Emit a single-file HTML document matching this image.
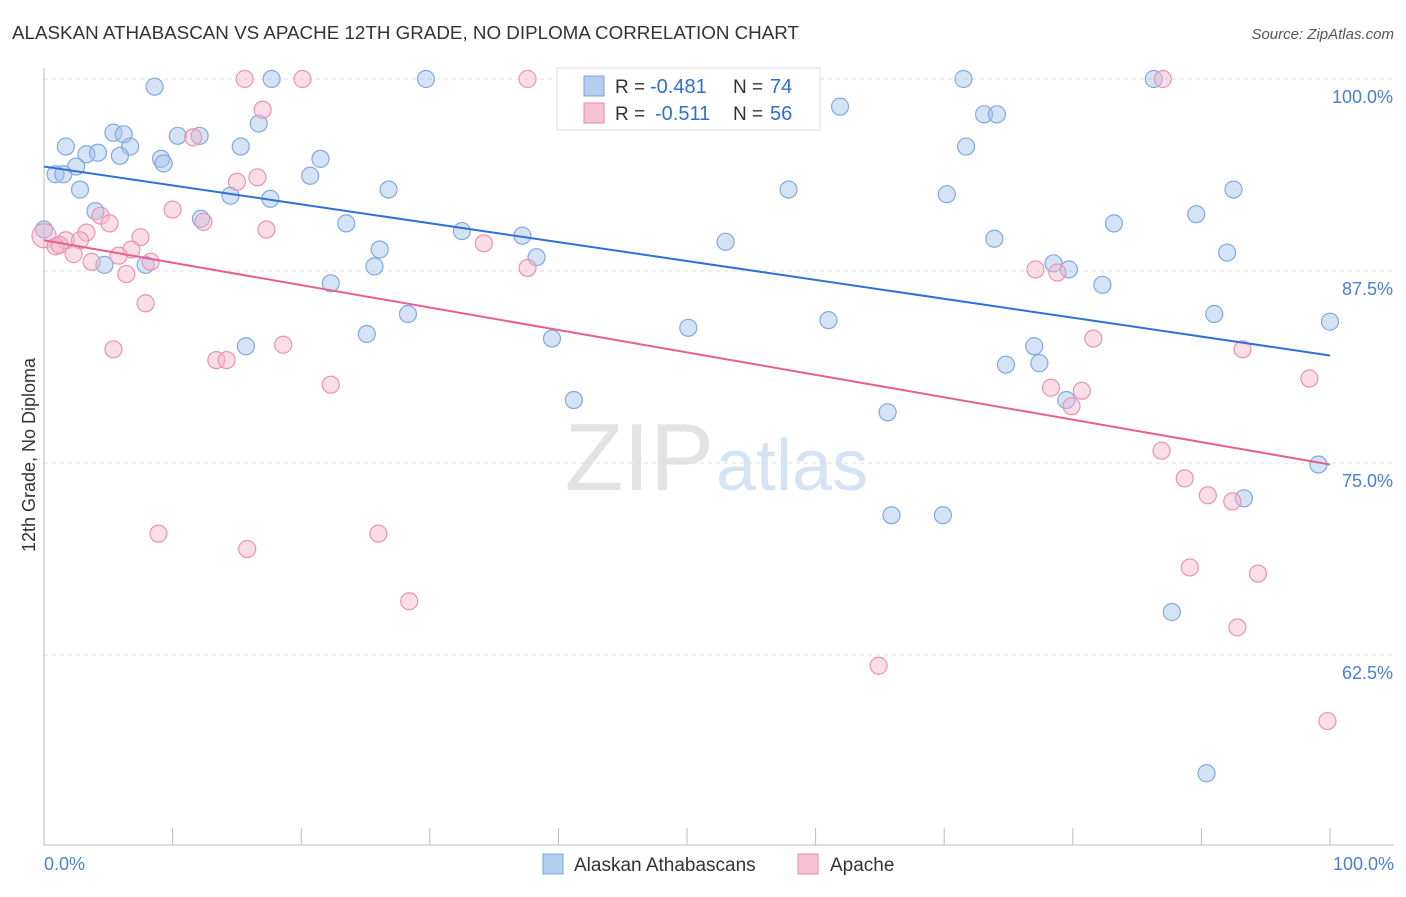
<!DOCTYPE html>
<html><head><meta charset="utf-8"><style>
body{margin:0;background:#fff;font-family:"Liberation Sans",sans-serif;}
svg text{font-family:"Liberation Sans",sans-serif;}
</style></head><body>
<svg id="chart" width="1406" height="892" viewBox="0 0 1406 892">
<text x="12" y="39" font-size="18" fill="#333" textLength="787" lengthAdjust="spacingAndGlyphs">ALASKAN ATHABASCAN VS APACHE 12TH GRADE, NO DIPLOMA CORRELATION CHART</text>
<text x="1394" y="39" font-size="15" fill="#555" text-anchor="end" font-style="italic">Source: ZipAtlas.com</text>
<text x="714" y="490" font-size="96" fill="#e3e3e3" text-anchor="end" font-family="Liberation Serif">ZIP</text>
<text x="716" y="490" font-size="72" fill="#d6e3f3">atlas</text>
<g id="grid"></g>
<g id="axes"></g>
<g id="marks"></g>
<g id="trends"></g>
<text transform="translate(35,455) rotate(-90)" font-size="18" fill="#333" text-anchor="middle">12th Grade, No Diploma</text>
<text x="44" y="870" font-size="18" fill="#4a7fd4">0.0%</text>
<text x="1394" y="870" font-size="18" fill="#4a7fd4" text-anchor="end">100.0%</text>
<g>
<rect x="557" y="68" width="263" height="62" fill="#fff" stroke="#ddd"/>
<rect x="584" y="76" width="20" height="20" fill="#b5cdee" stroke="#7aa3dc"/>
<text x="615" y="93" font-size="19" fill="#333">R =</text>
<text x="650" y="93" font-size="20" fill="#2f6fd0">-0.481</text>
<text x="733" y="93" font-size="19" fill="#333">N =</text>
<text x="770" y="93" font-size="20" fill="#2f6fd0">74</text>
<rect x="584" y="103" width="20" height="20" fill="#f7c3d4" stroke="#e58aa9"/>
<text x="615" y="120" font-size="19" fill="#333">R =</text>
<text x="655" y="120" font-size="20" fill="#2f6fd0">-0.511</text>
<text x="733" y="120" font-size="19" fill="#333">N =</text>
<text x="770" y="120" font-size="20" fill="#2f6fd0">56</text>
</g>
<g>
<rect x="543" y="854" width="20" height="20" fill="#b5cdee" stroke="#7aa3dc"/>
<text x="574" y="871" font-size="19" fill="#333">Alaskan Athabascans</text>
<rect x="798" y="854" width="20" height="20" fill="#f7c3d4" stroke="#e58aa9"/>
<text x="830" y="871" font-size="19" fill="#333">Apache</text>
</g>
</svg>
<script>
const yTicks=[100,87.5,75,62.5];
const yTickLabels=["100.0%","87.5%","75.0%","62.5%"];
const xTicks=[0,10,20,30,40,50,60,70,80,90,100];
const blueX=[8.6,17.7,29.7,71.5,86.3,61.9,73.1,74.1,16.7,5.4,6.2,10.4,12.1,1.7,6.7,15.3,71.7,3.3,4.2,5.9,9.1,9.3,21.5,2.5,0.9,1.5,20.7,2.8,14.5,17.6,26.8,57.9,70.2,92.5,4.0,12.2,23.5,89.6,83.2,0,32.5,37.2,53.0,73.9,26.1,92.0,4.7,7.9,25.7,38.3,78.5,79.7,22.3,82.3,28.3,91.0,100,50.1,61.0,25.1,39.5,15.7,77.0,74.8,77.4,41.2,79.5,65.6,99.1,93.3,65.9,69.9,87.7,90.4];
const blueY=[99.5,100,100,100,100,98.2,97.7,97.7,97.1,96.5,96.4,96.3,96.3,95.6,95.6,95.6,95.6,95.1,95.2,95.0,94.8,94.5,94.8,94.3,93.8,93.8,93.7,92.8,92.4,92.2,92.8,92.8,92.5,92.8,91.4,90.9,90.6,91.2,90.6,90.2,90.1,89.8,89.4,89.6,88.9,88.7,87.9,87.9,87.8,88.4,88.0,87.6,86.7,86.6,84.7,84.7,84.2,83.8,84.3,83.4,83.1,82.6,82.6,81.4,81.5,79.1,79.1,78.3,74.9,72.7,71.6,71.6,65.3,54.8];
const pinkX=[15.6,20.1,37.6,87.0,17.0,11.6,15.0,16.6,10.0,4.4,5.1,12.4,17.3,3.3,0,7.5,1.7,2.8,0.9,1.2,6.8,5.8,2.3,3.7,8.3,6.4,34.2,37.6,77.1,78.8,7.9,81.6,5.4,18.6,13.4,14.2,22.3,93.2,98.4,78.3,80.7,79.9,86.9,88.7,90.5,92.4,8.9,26.0,15.8,89.1,94.4,28.4,92.8,64.9,99.8];
const pinkY=[100,100,100,100,98.0,96.2,93.3,93.6,91.5,91.1,90.6,90.7,90.2,90.0,89.8,89.7,89.5,89.5,89.1,89.2,88.9,88.5,88.6,88.1,88.1,87.3,89.3,87.7,87.6,87.4,85.4,83.1,82.4,82.7,81.7,81.7,80.1,82.4,80.5,79.9,79.7,78.7,75.8,74.0,72.9,72.5,70.4,70.4,69.4,68.2,67.8,66.0,64.3,61.8,58.2];
const blueTrend=[94.3,82.0];
const pinkTrend=[89.5,74.9];
const NS="http://www.w3.org/2000/svg";
const xs=v=>44+v*12.86;
const ys=v=>79+(100-v)*15.36;
function mk(tag,attrs,parent){const e=document.createElementNS(NS,tag);for(const k in attrs)e.setAttribute(k,attrs[k]);document.getElementById(parent).appendChild(e);return e;}
yTicks.forEach((t,i)=>{
 const l=mk('line',{x1:44,x2:1394,y1:ys(t),y2:ys(t),stroke:'#ddd','stroke-dasharray':'4,4'},'grid');
 
 
 const tx=mk('text',{x:1393,y:ys(t)+24,'font-size':18,fill:'#4a7fd4','text-anchor':'end'},'grid');
 tx.textContent=yTickLabels[i];
 
 
});
let a=mk('line',{x1:44,x2:44,y1:68,y2:845,stroke:'#bbb'},'axes');


a=mk('line',{x1:44,x2:1394,y1:845,y2:845,stroke:'#bbb'},'axes');


xTicks.forEach(t=>{
 const l=mk('line',{x1:xs(t),x2:xs(t),y1:828,y2:845,stroke:'#bbb'},'axes');
 
 
});
blueX.forEach((x,i)=>{
 const c=mk('circle',{cx:xs(x),cy:ys(blueY[i]),r:8.5,fill:'rgba(160,192,236,0.45)',stroke:'#82a9df','stroke-width':1.2},'marks');
 
 
});
pinkX.forEach((x,i)=>{
 const c=mk('circle',{cx:xs(x),cy:ys(pinkY[i]),r:(x===0?12:8.5),fill:'rgba(244,180,202,0.45)',stroke:'#e895b2','stroke-width':1.2},'marks');
 
 
});
let t=mk('line',{x1:xs(0),x2:xs(100),y1:ys(blueTrend[0]),y2:ys(blueTrend[1]),stroke:'#2f6fd6','stroke-width':2},'trends');


t=mk('line',{x1:xs(0),x2:xs(100),y1:ys(pinkTrend[0]),y2:ys(pinkTrend[1]),stroke:'#e5608f','stroke-width':2},'trends');


</script>
</body></html>
